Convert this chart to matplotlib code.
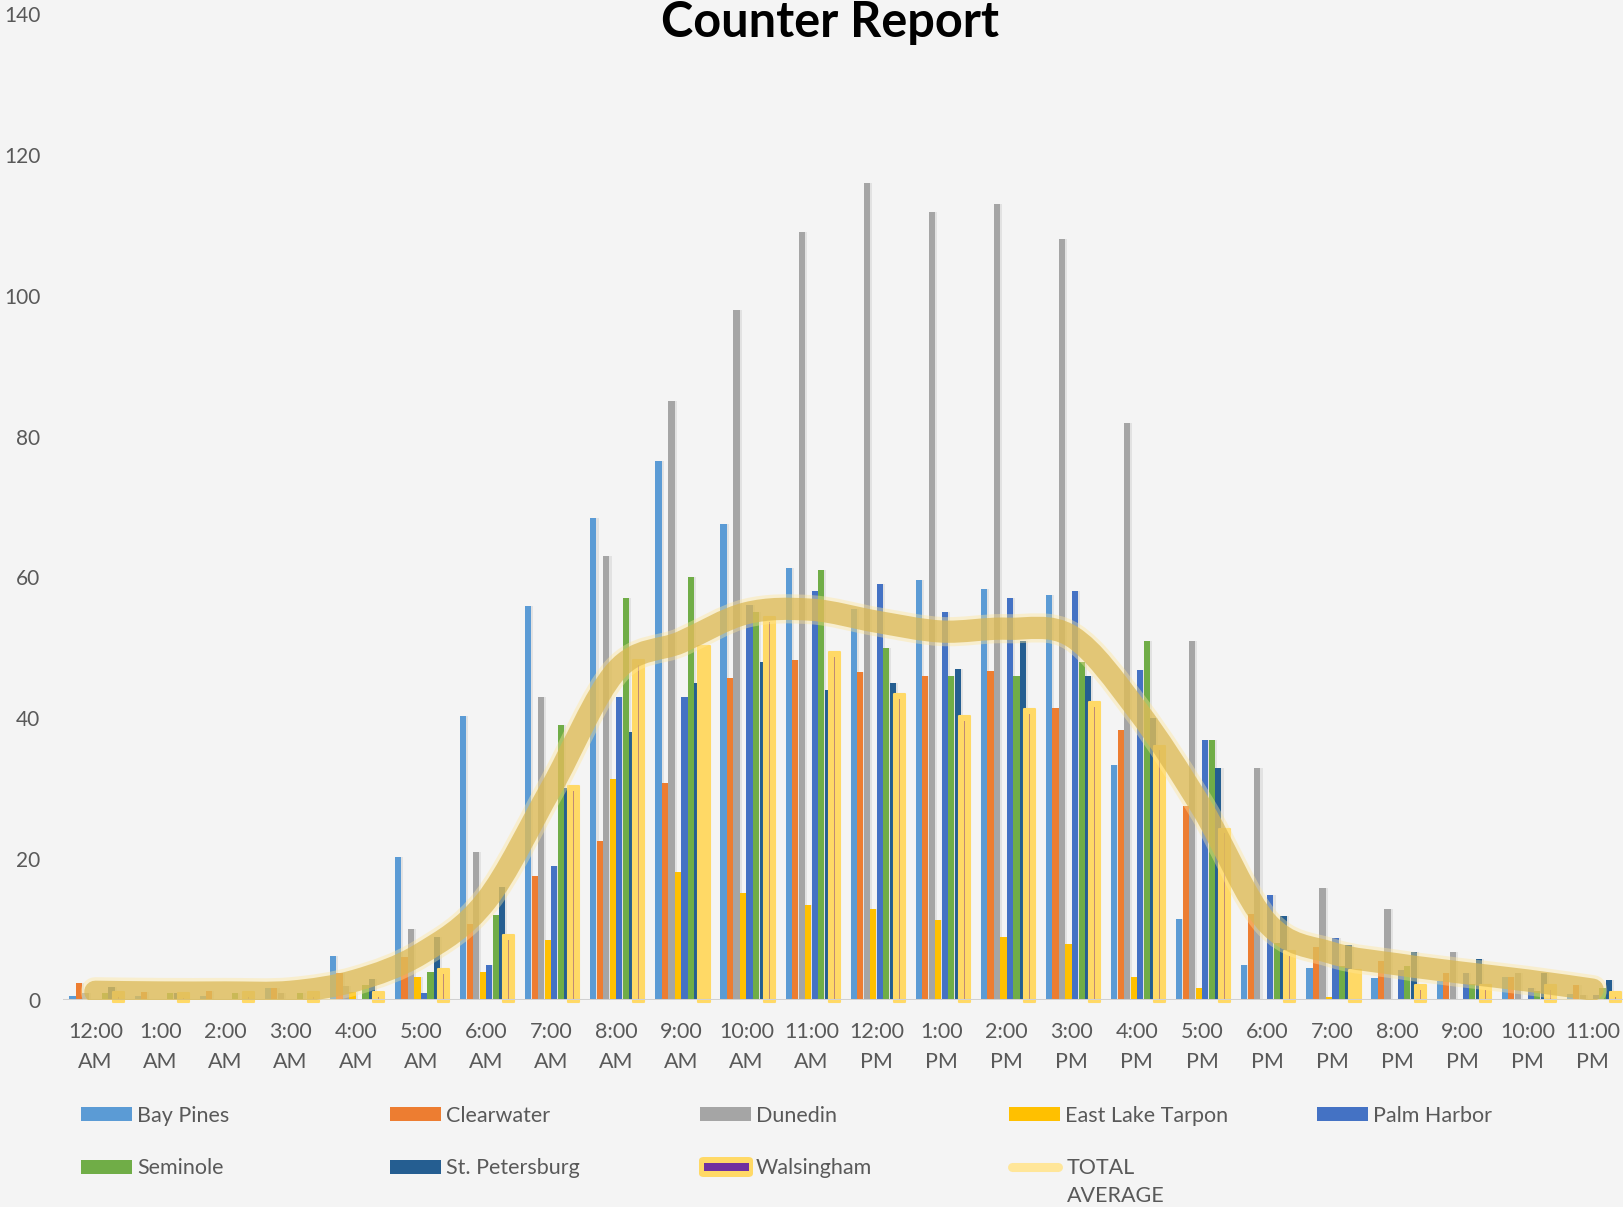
import numpy as np
import matplotlib
matplotlib.use("Agg")
import matplotlib.pyplot as plt
from matplotlib.path import Path
from matplotlib.patches import PathPatch, Rectangle, FancyBboxPatch
from matplotlib.lines import Line2D

plt.rcParams['font.family'] = ['Lato', 'DejaVu Sans']

hours = ["12:00\nAM", "1:00\nAM", "2:00\nAM", "3:00\nAM", "4:00\nAM", "5:00\nAM",
         "6:00\nAM", "7:00\nAM", "8:00\nAM", "9:00\nAM", "10:00\nAM", "11:00\nAM",
         "12:00\nPM", "1:00\nPM", "2:00\nPM", "3:00\nPM", "4:00\nPM", "5:00\nPM",
         "6:00\nPM", "7:00\nPM", "8:00\nPM", "9:00\nPM", "10:00\nPM", "11:00\nPM"]

sites = ["Bay Pines", "Clearwater", "Dunedin", "East Lake Tarpon", "Palm Harbor",
         "Seminole", "St. Petersburg", "Walsingham"]
site_colors = ["#5B9BD5", "#ED7D31", "#A5A5A5", "#FFC000", "#4472C4",
               "#70AD47", "#255E91"]

bay_pines = [0.5, 0.5, 0.5, 1.6, 6.2, 20.2, 40.3, 55.9, 68.5, 76.5, 67.6, 61.4,
             55.5, 59.6, 58.4, 57.5, 33.3, 11.4, 4.9, 4.5, 3.1, 2.6, 3.2, 0.8]
clearwater = [2.4, 1.1, 1.2, 1.6, 3.7, 6.0, 10.7, 17.5, 22.5, 30.8, 45.7, 48.2,
              46.6, 46.0, 46.7, 41.4, 38.3, 27.5, 12.1, 7.4, 5.5, 3.8, 3.2, 2.1]
dunedin = [0.9, 0, 0, 0.9, 1.9, 10.0, 21.0, 43.0, 63.1, 85.1, 98.0, 109.1,
           116.0, 112.0, 113.1, 108.1, 82.0, 50.9, 32.9, 15.8, 12.8, 6.7, 3.8, 0.7]
east_lake_tarpon = [0, 0, 0, 0, 1.1, 3.2, 3.9, 8.5, 31.3, 18.1, 15.2, 13.4,
                    12.8, 11.3, 8.9, 7.9, 3.2, 1.6, 0, 0.3, 0, 0, 0, 0]
palm_harbor = [0, 0, 0, 0, 0, 0.9, 4.9, 19.0, 43.0, 43.0, 56.1, 58.1,
               59.1, 55.1, 57.1, 58.1, 46.9, 36.9, 14.9, 8.7, 4.2, 3.8, 1.7, 0.7]
seminole = [0.9, 0.9, 0.9, 0.9, 2.0, 3.9, 12.0, 39.0, 57.1, 60.1, 55.1, 61.1,
            50.0, 46.0, 46.0, 48.0, 50.9, 36.9, 8.1, 4.7, 4.8, 2.2, 1.2, 1.7]
st_petersburg = [1.8, 0.9, 0, 0, 2.9, 8.9, 16.0, 30.0, 38.0, 45.0, 48.0, 44.0,
                 45.0, 47.0, 51.0, 46.0, 40.0, 32.9, 11.9, 7.7, 6.7, 5.7, 3.8, 2.8]
walsingham = [0.3, 0.2, 0.3, 0.3, 0.3, 3.6, 8.5, 29.6, 47.6, 49.6, 53.6, 48.7,
              42.7, 39.6, 40.6, 41.6, 35.4, 23.6, 6.2, 3.5, 1.4, 1.4, 1.4, 0.4]
total_average = [1.1, 1.0, 1.0, 1.1, 2.7, 6.5, 14.0, 30.0, 46.7, 50.8, 54.9, 55.4,
                 53.7, 52.3, 52.7, 51.6, 41.2, 27.2, 10.9, 6.6, 5.0, 3.8, 2.7, 1.4]

W, H = 1624, 1207
BG = "#F4F4F4"
TXT = "#595959"
AX_TOP, AX_BOT = 14.5, 999.5   # pixel rows of y=140 and y=0


def fx(px):
    return px / W


def fy(py):
    return 1 - py / H


def ax_y(py):
    # pixel row -> axes fraction
    return (AX_BOT - py) / (AX_BOT - AX_TOP)


def smooth_path(xs, ys, t=1 / 6):
    # bezier through the points, like a smoothed Excel line
    pts = np.column_stack([xs, ys]).astype(float)
    n = len(pts)
    verts = [pts[0]]
    codes = [Path.MOVETO]
    for i in range(n - 1):
        p0 = pts[max(i - 1, 0)]
        p1 = pts[i]
        p2 = pts[i + 1]
        p3 = pts[min(i + 2, n - 1)]
        verts += [p1 + (p2 - p0) * t, p2 - (p3 - p1) * t, p2]
        codes += [Path.CURVE4] * 3
    return Path(verts, codes)


fig = plt.figure(figsize=(W / 100, H / 100), dpi=100, facecolor=BG)
ax = fig.add_axes([fx(62.75), fy(AX_BOT), fx(1625.2) - fx(62.75), fy(AX_TOP) - fy(AX_BOT)])
ax.set_facecolor(BG)
ax.set_xlim(-0.5, 23.5)
ax.set_ylim(0, 140)

x = np.arange(len(hours))
bw = 0.1
series = [bay_pines, clearwater, dunedin, east_lake_tarpon, palm_harbor,
          seminole, st_petersburg]
for k, (vals, c) in enumerate(zip(series, site_colors)):
    pos = x + (k - 3.5) * bw
    ax.bar(pos + 0.03, vals, bw, color="black", alpha=0.07, lw=0, zorder=1)
    ax.bar(pos, vals, bw * 0.95, color=c, lw=0, zorder=2)

# Walsingham: thin purple bar with a yellow glow
pos = x + 3.5 * bw
ax.bar(pos, np.array(walsingham) + 1.1, 0.17, bottom=-0.4, color="#FFD966",
       lw=1.5, edgecolor="#FFD966", joinstyle="round", zorder=3, clip_on=False)
ax.bar(pos, walsingham, 0.014, color="#C08A74", lw=0, zorder=4)

ax.axhline(0, color="#D0D0D0", lw=2.2, zorder=5)

# total average smoothed line
path = smooth_path(x, total_average)
ax.add_patch(PathPatch(path, fill=False, lw=21, edgecolor="#FFE699", alpha=0.4,
                       capstyle="round", joinstyle="round", zorder=6))
ax.add_patch(PathPatch(path, fill=False, lw=16, edgecolor="#D9B650", alpha=0.7,
                       capstyle="round", joinstyle="round", zorder=7))

for s in ax.spines.values():
    s.set_visible(False)
ax.set_yticks(range(0, 141, 20))
ax.tick_params(axis="y", length=0, pad=16, labelsize=15, labelcolor=TXT)

# two-line category labels under each group
ax.set_xticks(x, [""] * len(x))
ax.tick_params(axis="x", length=0)
xt = ax.get_xaxis_transform()
for i, lab in enumerate(hours):
    top, bottom = lab.split("\n")
    ax.text(i, ax_y(1038.5), top, transform=xt, ha="center", va="baseline",
            fontsize=15.5, color=TXT, clip_on=False)
    ax.text(i, ax_y(1068.0), bottom, transform=xt, ha="center", va="baseline",
            fontsize=15.5, color=TXT, clip_on=False)

fig.text(fx(830), fy(37), "Counter Report", ha="center", va="baseline",
         fontsize=35, fontweight="bold", color="black")

# legend, 5 columns x 2 rows
cols_x = [81, 390, 700, 1009, 1317]
rows_y = [1114, 1167]
for i, name in enumerate(sites):
    cx = cols_x[i % 5]
    cy = rows_y[i // 5]
    if name == "Walsingham":
        fig.add_artist(FancyBboxPatch((fx(cx - 1), fy(cy + 10)), fx(54), 20 / H,
                                      boxstyle="round,pad=0,rounding_size=0.003",
                                      transform=fig.transFigure, fc="#FFD966", ec="none"))
        fig.add_artist(Rectangle((fx(cx + 4), fy(cy + 4)), fx(45), 8 / H,
                                 transform=fig.transFigure, fc="#7030A0", ec="none"))
    else:
        fig.add_artist(Rectangle((fx(cx), fy(cy + 7)), fx(51), 14 / H,
                                 transform=fig.transFigure, fc=site_colors[i], ec="none"))
    fig.text(fx(cx + 56), fy(cy + 7.5), name, ha="left", va="baseline",
             fontsize=15.5, color=TXT)

fig.add_artist(Line2D([fx(1012), fx(1058)], [fy(1167), fy(1167)], transform=fig.transFigure,
                      lw=6.5, color="#FFE699", solid_capstyle="round"))
fig.text(fx(1066.5), fy(1174.5), "TOTAL", ha="left", va="baseline",
         fontsize=15.5, color=TXT)
fig.text(fx(1066.5), fy(1202.5), "AVERAGE", ha="left", va="baseline",
         fontsize=15.5, color=TXT)

fig.savefig("out.png", dpi=100, facecolor=BG)
